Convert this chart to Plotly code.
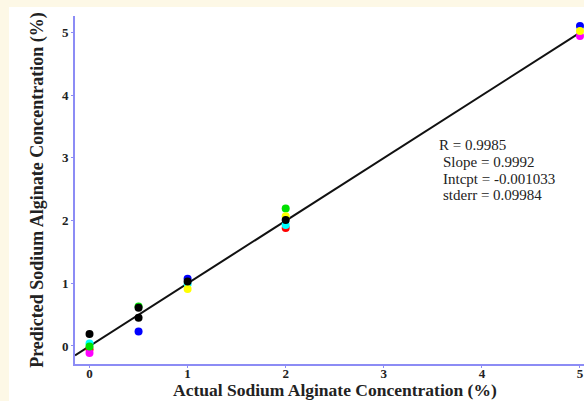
import plotly.graph_objects as go

# Data
actual_black = [0, 0.5, 0.5, 1, 2]
pred_black = [0.19, 0.61, 0.45, 1.03, 2.01]
actual_blue = [0.5, 1, 5]
pred_blue = [0.23, 1.07, 5.10]
actual_green = [0, 0.5, 2]
pred_green = [-0.01, 0.63, 2.19]
actual_yellow = [1, 2, 5]
pred_yellow = [0.91, 2.07, 5.02]
actual_cyan = [0, 1, 2]
pred_cyan = [0.04, 0.99, 1.93]
actual_red = [0, 2]
pred_red = [-0.05, 1.88]
actual_magenta = [0, 5]
pred_magenta = [-0.11, 4.94]

slope = 0.9992
intercept = -0.001033
fit_x = [-0.148, 5.0]
stats_lines = ["R = 0.9985", "Slope = 0.9992", "Intcpt = -0.001033", "stderr = 0.09984"]
stats_x = [3.55, 3.59, 3.59, 3.59]
stats_y = [3.20, 2.93, 2.66, 2.41]

x_ticks = [0, 1, 2, 3, 4, 5]
y_ticks = [0, 1, 2, 3, 4, 5]
x_title = "Actual Sodium Alginate Concentration (%)"
y_title = "Predicted Sodium Alginate Concentration (%)"

fig = go.Figure()

fig.add_trace(go.Scatter(
    x=fit_x, y=[slope * v + intercept for v in fit_x],
    mode="lines", line=dict(color="#111111", width=2), showlegend=False, hoverinfo="skip"))

groups = [
    (actual_red, pred_red, "red"),
    (actual_magenta, pred_magenta, "magenta"),
    (actual_cyan, pred_cyan, "cyan"),
    (actual_green, pred_green, "#00e000"),
    (actual_blue, pred_blue, "blue"),
    (actual_yellow, pred_yellow, "yellow"),
    (actual_black, pred_black, "black"),
]
for xs, ys, c in groups:
    fig.add_trace(go.Scatter(x=xs, y=ys, mode="markers",
                             marker=dict(color=c, size=8, line=dict(width=0)),
                             showlegend=False))

axis_color = "#8c8cf5"
tick_font = dict(family="Liberation Serif", size=13, color="#222222")

annotations = [
    dict(x=sx, y=sy, xref="x", yref="y", xanchor="left", yanchor="middle",
         showarrow=False, text=t, borderpad=0,
         font=dict(family="Liberation Serif", size=15, color="#222222"))
    for t, sx, sy in zip(stats_lines, stats_x, stats_y)
]
annotations.append(dict(
    x=(335 - 75) / 509, y=(364 - 390) / 348, xref="paper", yref="paper",
    xanchor="center", yanchor="middle", showarrow=False, borderpad=0,
    text="<b>%s</b>" % x_title,
    font=dict(family="Liberation Serif", size=17.5, color="#222222")))

fig.update_layout(
    width=584, height=401,
    margin=dict(l=75, r=0, t=16, b=37),
    paper_bgcolor="#fdf8e6",
    plot_bgcolor="white",
    xaxis=dict(range=[-0.148, 5.041], tickvals=x_ticks,
               ticktext=["<b>%d</b>" % v for v in x_ticks],
               showgrid=False, zeroline=False, showline=True, linecolor=axis_color, linewidth=2,
               ticks="outside", ticklen=2, tickcolor=axis_color, tickwidth=1,
               tickfont=tick_font, ticklabelstandoff=-6),
    yaxis=dict(range=[-0.287, 5.26], tickvals=y_ticks,
               ticktext=["<b>%d</b>" % v for v in y_ticks],
               showgrid=False, zeroline=False, showline=True, linecolor=axis_color, linewidth=2,
               ticks="outside", ticklen=2, tickcolor=axis_color, tickwidth=1,
               tickfont=tick_font,
               title=dict(text="<b>%s</b>" % y_title,
                          font=dict(family="Liberation Serif", size=18, color="#222222"),
                          standoff=14)),
    shapes=[dict(type="rect", xref="paper", yref="paper", layer="below",
                 x0=(9 - 75) / 509, x1=1.1, y0=-0.2, y1=(364 - 7) / 348,
                 fillcolor="white", line=dict(width=0))],
    annotations=annotations,
)

fig.write_html("out.html")
